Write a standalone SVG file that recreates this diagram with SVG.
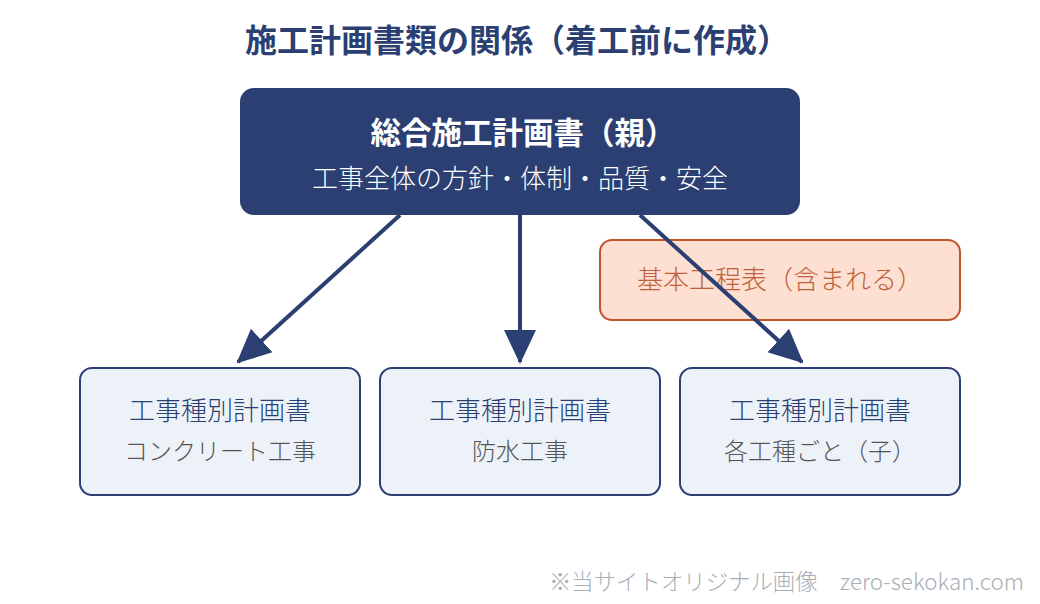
<svg xmlns="http://www.w3.org/2000/svg" width="1040" height="604" viewBox="0 0 1040 604">
  <style>
    text { font-family: "Noto Sans CJK JP", "Noto Sans", sans-serif; text-anchor: middle; }
    .title { font-size: 32px; font-weight: bold; fill: #2b3f72; }
    .phead { font-size: 30.5px; font-weight: bold; fill: #ffffff; }
    .psub { font-size: 26px; font-weight: 300; fill: #ffffff; }
    .child { fill: #edf2f9; stroke: #2b3f72; stroke-width: 2; }
    .chead { font-size: 26px; font-weight: 300; fill: #2b3f72; }
    .csub { font-size: 24px; font-weight: 300; fill: #555555; }
    .note { fill: #fde0d1; stroke: #c0552d; stroke-width: 2; }
    .notetext { font-size: 26px; font-weight: 300; fill: #c0603a; }
    .conn { stroke: #2b3f72; stroke-width: 4; fill: none; marker-end: url(#ah); }
    .footer { font-size: 22.4px; font-weight: 300; fill: #a9aeb6; text-anchor: end; }
  </style>
  <defs>
    <marker id="ah" markerUnits="userSpaceOnUse" markerWidth="34" markerHeight="34" viewBox="0 0 34 34" refX="32" refY="17" orient="auto">
      <path d="M0,1 L34,17 L0,33 Z" fill="#2b3f72"/>
    </marker>
  </defs>
  <rect width="1040" height="604" fill="#ffffff"/>
  <text class="title" x="517" y="52">施工計画書類の関係（着工前に作成）</text>

  <g id="parent">
    <rect x="240" y="88" width="560" height="127" rx="14" fill="#2b3f72"/>
    <text class="phead" x="523" y="144">総合施工計画書（親）</text>
    <text class="psub" x="520" y="188">工事全体の方針・体制・品質・安全</text>
  </g>

  <g id="schedule">
    <rect class="note" x="600" y="240" width="360" height="80" rx="12"/>
    <text class="notetext" x="780" y="289">基本工程表（含まれる）</text>
  </g>

  <g id="child-concrete">
    <rect class="child" x="80" y="368" width="280" height="127" rx="12"/>
    <text class="chead" x="220" y="420">工事種別計画書</text>
    <text class="csub" x="220" y="460">コンクリート工事</text>
  </g>
  <g id="child-waterproof">
    <rect class="child" x="380" y="368" width="280" height="127" rx="12"/>
    <text class="chead" x="520" y="420">工事種別計画書</text>
    <text class="csub" x="520" y="460">防水工事</text>
  </g>
  <g id="child-each">
    <rect class="child" x="680" y="368" width="280" height="127" rx="12"/>
    <text class="chead" x="820" y="420">工事種別計画書</text>
    <text class="csub" x="820" y="460">各工種ごと（子）</text>
  </g>

  <g id="connectors">
    <line class="conn" x1="400" y1="215" x2="238" y2="362"/>
    <line class="conn" x1="520" y1="215" x2="520" y2="362"/>
    <line class="conn" x1="640" y1="215" x2="802" y2="362"/>
  </g>

  <text class="footer" x="1024" y="590">※当サイトオリジナル画像　zero-sekokan.com</text>
</svg>
